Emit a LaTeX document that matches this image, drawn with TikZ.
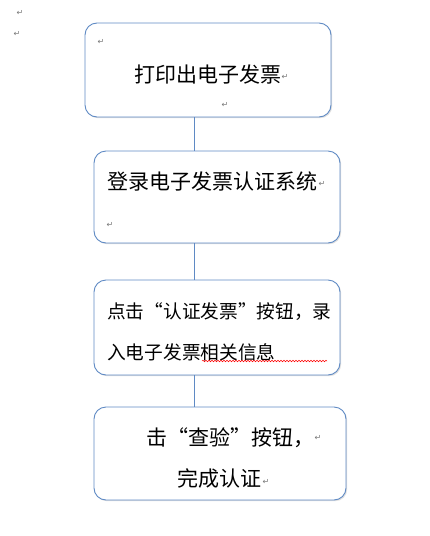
\documentclass[tikz,border=0pt]{standalone}
\usepackage{fontspec}
\newfontfamily\cjk[CharacterWidth=Full]{Noto Sans CJK SC}
\newfontfamily\sym{DejaVu Sans}
\usetikzlibrary{decorations.pathmorphing,shadows}
\definecolor{boxblue}{RGB}{95,138,196}
\definecolor{markgray}{RGB}{120,120,120}
\begin{document}
\begin{tikzpicture}[x=1pt,y=-1pt,
  stepbox/.style={draw=boxblue, line width=0.9pt, rounded corners=12pt, fill=white, inner sep=0pt,
    drop shadow={shadow xshift=1.2pt, shadow yshift=-1.2pt, opacity=0.25}},
  bigtxt/.style={anchor=west, inner sep=0pt, font=\cjk\fontsize{21}{21}\selectfont},
  smalltxt/.style={anchor=west, inner sep=0pt, font=\cjk\fontsize{18.7}{18.7}\selectfont},
  retmark/.style={inner sep=0pt, text=markgray, font=\sym\fontsize{8}{8}\selectfont},
  conn/.style={draw=boxblue, line width=0.9pt}]
\useasboundingbox (0,0) rectangle (430,536);
\coordinate (cx) at (194,0);
% boxes
\node[stepbox, minimum width=246pt, minimum height=94pt] (b1) at (208,70) {};
\node[stepbox, minimum width=246pt, minimum height=92pt] (b2) at (217,197) {};
\node[stepbox, minimum width=246pt, minimum height=95pt] (b3) at (217,327.5) {};
\node[stepbox, minimum width=252pt, minimum height=93pt] (b4) at (220,453.5) {};
% connectors
\draw[conn] (b1.south -| cx) -- (b2.north -| cx);
\draw[conn] (b2.south -| cx) -- (b3.north -| cx);
\draw[conn] (b3.south -| cx) -- (b4.north -| cx);
% texts
\node[bigtxt] (t1) at (134,75) {打印出电子发票};
\node[bigtxt] (t2) at (107,182) {登录电子发票认证系统};
\node[smalltxt] (t3a) at (107,312) {点击“认证发票”按钮，录};
\node[smalltxt] (t3b) at (107,352) {入电子发票相关信息};
\node[bigtxt] (t4a) at (146,438) {击“查验”按钮，};
\node[bigtxt] (t4b) at (177,478) {完成认证};
% wavy underline
\draw[red, line width=0.5pt, decorate, decoration={snake, amplitude=0.8pt, segment length=3pt}] (202,361) -- (327,361);
% paragraph marks
\node[retmark] (r1) at (20,13) {↵};
\node[retmark] (r2) at (17,34) {↵};
\node[retmark] (r3) at (101,42) {↵};
\node[retmark] (r4) at (285,77) {↵};
\node[retmark] (r5) at (225,105) {↵};
\node[retmark] (r6) at (322,184) {↵};
\node[retmark] (r7) at (110,225) {↵};
\node[retmark] (r8) at (318,438) {↵};
\node[retmark] (r9) at (266,482) {↵};
\end{tikzpicture}
\end{document}
